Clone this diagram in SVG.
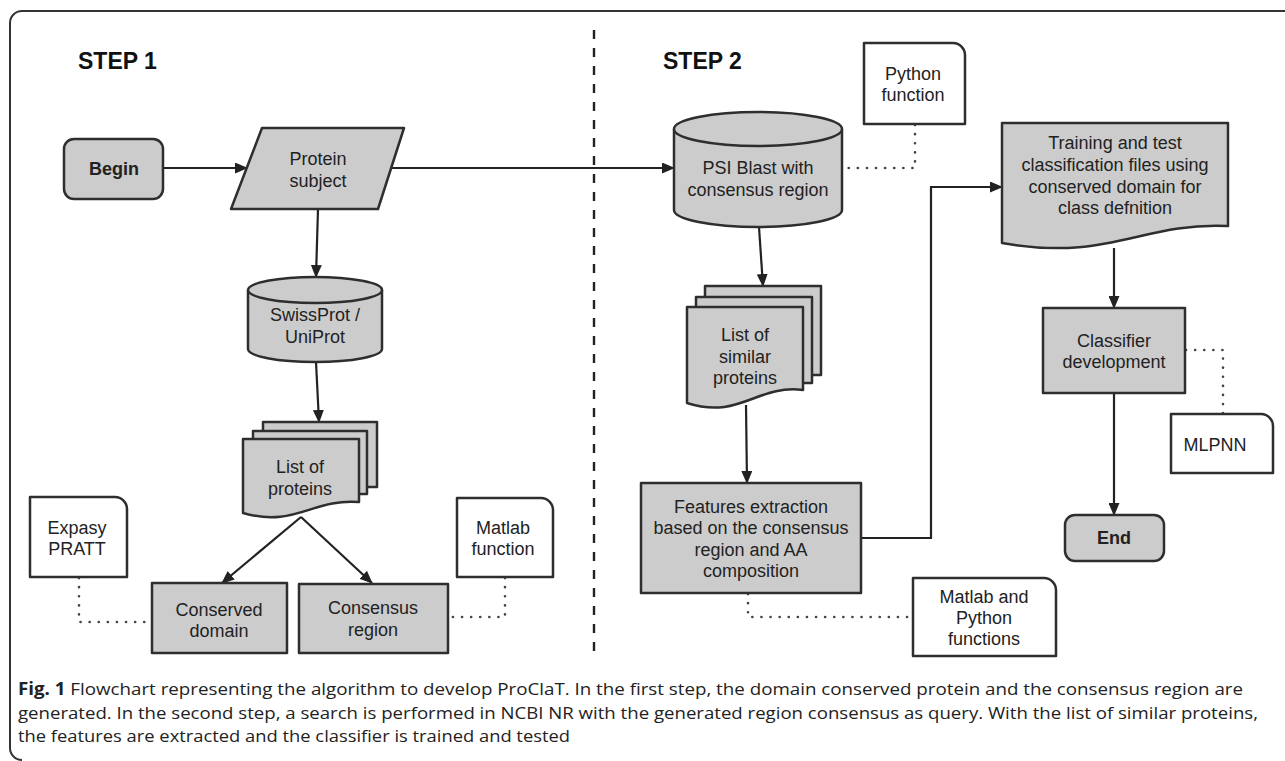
<svg xmlns="http://www.w3.org/2000/svg" width="1285" height="761" viewBox="0 0 1285 761">
<defs>
<marker id="arr" markerUnits="userSpaceOnUse" markerWidth="13" markerHeight="11" refX="12" refY="5.5" orient="auto">
<path d="M0,0 L13,5.5 L0,11 z" fill="#222"/>
</marker>
<style>
.shape{fill:#cccccc;stroke:#2e2e2e;stroke-width:2.5;stroke-linejoin:round}
.note{fill:#ffffff;stroke:#2e2e2e;stroke-width:2.5;stroke-linejoin:round}
.lbl{font-family:"Liberation Sans",Arial,sans-serif;font-size:18px;fill:#222;text-anchor:middle}
.bold{font-weight:bold}
.step{font-family:"Liberation Sans",Arial,sans-serif;font-size:23px;font-weight:bold;fill:#111}
.conn{fill:none;stroke:#222;stroke-width:2.2}
.dot{fill:none;stroke:#444;stroke-width:2.6;stroke-linecap:round;stroke-dasharray:0.1 9}
.cap{font-family:"Open Sans","Liberation Sans",sans-serif;font-size:17px;fill:#222}
</style>
</defs>
<rect width="1285" height="761" fill="#ffffff"/>
<path d="M1285,11 H22 A12,12 0 0 0 10,23 V748 A12,12 0 0 0 22,760" fill="none" stroke="#333" stroke-width="2"/>
<text class="step" x="78" y="69">STEP 1</text>
<text class="step" x="663" y="69">STEP 2</text>
<line x1="594" y1="30" x2="594" y2="660" stroke="#222" stroke-width="2.4" stroke-dasharray="9 9"/>

<g id="connectors">
<path class="conn" d="M163,168 H247" marker-end="url(#arr)"/>
<path class="conn" d="M391,168 H674" marker-end="url(#arr)"/>
<path class="conn" d="M318,209 L316,277" marker-end="url(#arr)"/>
<path class="conn" d="M316,362 L319,422" marker-end="url(#arr)"/>
<path class="conn" d="M301,517 L222,583" marker-end="url(#arr)"/>
<path class="conn" d="M301,517 L372,583" marker-end="url(#arr)"/>
<path class="conn" d="M759,227 L763,286" marker-end="url(#arr)"/>
<path class="conn" d="M746,405 L747,483" marker-end="url(#arr)"/>
<path class="conn" d="M861,538 H931 V187 H1002" marker-end="url(#arr)"/>
<path class="conn" d="M1114,248 V308" marker-end="url(#arr)"/>
<path class="conn" d="M1114,393 V515" marker-end="url(#arr)"/>
<path class="dot" d="M79,578 V622 H152"/>
<path class="dot" d="M505,578 V617 H448"/>
<path class="dot" d="M915,125 V168 H842"/>
<path class="dot" d="M748,594 V617 H913"/>
<path class="dot" d="M1186,350 H1223 V414"/>
</g>

<g id="begin">
<rect class="shape" x="64" y="139" width="99" height="60" rx="10"/>
<text class="lbl bold" x="114" y="175">Begin</text>
</g>

<g id="protein-subject">
<path class="shape" d="M262,128 H404 L378,209 H231 Z"/>
<text class="lbl" x="318" y="165">Protein</text>
<text class="lbl" x="318" y="187">subject</text>
</g>

<g id="swissprot">
<path class="shape" d="M248,290 V349 A67,13 0 0 0 382,349 V290"/>
<ellipse class="shape" cx="315" cy="290" rx="67" ry="13"/>
<text class="lbl" x="315" y="321">SwissProt /</text>
<text class="lbl" x="315" y="343">UniProt</text>
</g>

<g id="list-proteins">
<rect class="shape" x="263" y="422" width="114" height="65"/>
<rect class="shape" x="253" y="431" width="114" height="63"/>
<path class="shape" d="M243,439 H359 V502 C313,498 295,528 243,513 Z"/>
<text class="lbl" x="300" y="473">List of</text>
<text class="lbl" x="300" y="495">proteins</text>
</g>

<g id="expasy">
<path class="note" d="M30,497 H115 A12,12 0 0 1 127,509 V577 H30 Z"/>
<text class="lbl" x="77" y="534">Expasy</text>
<text class="lbl" x="77" y="555">PRATT</text>
</g>

<g id="conserved-domain">
<rect class="shape" x="152" y="583" width="135" height="70"/>
<text class="lbl" x="219" y="616">Conserved</text>
<text class="lbl" x="219" y="637">domain</text>
</g>

<g id="consensus-region">
<rect class="shape" x="299" y="584" width="149" height="69"/>
<text class="lbl" x="373" y="614">Consensus</text>
<text class="lbl" x="373" y="636">region</text>
</g>

<g id="matlab-function">
<path class="note" d="M457,498 H541 A12,12 0 0 1 553,510 V577 H457 Z"/>
<text class="lbl" x="503" y="534">Matlab</text>
<text class="lbl" x="503" y="555">function</text>
</g>

<g id="python-function">
<path class="note" d="M864,43 H953 A12,12 0 0 1 965,55 V124 H864 Z"/>
<text class="lbl" x="913" y="80">Python</text>
<text class="lbl" x="913" y="101">function</text>
</g>

<g id="psi-blast">
<path class="shape" d="M674,129 V210 A84,17 0 0 0 842,210 V129"/>
<ellipse class="shape" cx="758" cy="129" rx="84" ry="17"/>
<text class="lbl" x="758" y="174">PSI Blast with</text>
<text class="lbl" x="758" y="196">consensus region</text>
</g>

<g id="list-similar">
<rect class="shape" x="705" y="286" width="116" height="89"/>
<rect class="shape" x="696" y="297" width="116" height="86"/>
<path class="shape" d="M687,307 H803 V390 C757,384 740,420 687,403 Z"/>
<text class="lbl" x="745" y="341">List of</text>
<text class="lbl" x="745" y="363">similar</text>
<text class="lbl" x="745" y="384">proteins</text>
</g>

<g id="features">
<rect class="shape" x="641" y="483" width="220" height="110"/>
<text class="lbl" x="751" y="513">Features extraction</text>
<text class="lbl" x="751" y="534">based on the consensus</text>
<text class="lbl" x="751" y="556">region and AA</text>
<text class="lbl" x="751" y="577">composition</text>
</g>

<g id="matlab-python">
<path class="note" d="M913,578 H1044 A12,12 0 0 1 1056,590 V656 H913 Z"/>
<text class="lbl" x="984" y="603">Matlab and</text>
<text class="lbl" x="984" y="624">Python</text>
<text class="lbl" x="984" y="645">functions</text>
</g>

<g id="training">
<path class="shape" d="M1002,123 H1228 V226 C1140,222 1110,262 1002,243 Z"/>
<text class="lbl" x="1115" y="149">Training and test</text>
<text class="lbl" x="1115" y="171">classification files using</text>
<text class="lbl" x="1115" y="193">conserved domain for</text>
<text class="lbl" x="1115" y="214">class defnition</text>
</g>

<g id="classifier">
<rect class="shape" x="1043" y="308" width="142" height="85"/>
<text class="lbl" x="1114" y="347">Classifier</text>
<text class="lbl" x="1114" y="368">development</text>
</g>

<g id="mlpnn">
<path class="note" d="M1171,414 H1261 A12,12 0 0 1 1273,426 V473 H1171 Z"/>
<text class="lbl" x="1215" y="451">MLPNN</text>
</g>

<g id="end">
<rect class="shape" x="1065" y="515" width="99" height="46" rx="10"/>
<text class="lbl bold" x="1114" y="544">End</text>
</g>

<g id="caption">
<text class="cap" x="18" y="695" textLength="1225" lengthAdjust="spacingAndGlyphs"><tspan font-weight="bold">Fig. 1</tspan> Flowchart representing the algorithm to develop ProClaT. In the first step, the domain conserved protein and the consensus region are</text>
<text class="cap" x="18" y="718.5" textLength="1240" lengthAdjust="spacingAndGlyphs">generated. In the second step, a search is performed in NCBI NR with the generated region consensus as query. With the list of similar proteins,</text>
<text class="cap" x="18" y="742" textLength="552" lengthAdjust="spacingAndGlyphs">the features are extracted and the classifier is trained and tested</text>
</g>
</svg>
